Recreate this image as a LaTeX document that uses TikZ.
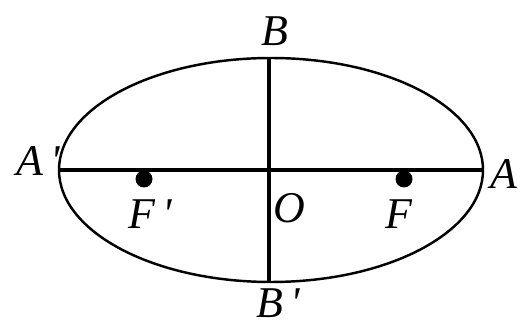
\documentclass[tikz,border=0pt]{standalone}
\usepackage{fontspec}
\setmainfont{Liberation Serif}
\usetikzlibrary{calc}

\newcommand{\lbl}[1]{\fontsize{25}{28}\selectfont\itshape #1}
\newcommand{\prm}{\,\textquotesingle}

\begin{document}
\begin{tikzpicture}[x=0.02cm, y=-0.02cm, every node/.style={inner sep=0pt}]
  \useasboundingbox (0,0) rectangle (521,320);
  % ellipse and its axes
  \coordinate (O) at (271,170);
  \draw[line width=1.4pt] (O) ellipse [x radius=212, y radius=112];
  \coordinate (Aleft) at (59,170);
  \coordinate (Aright) at (483,170);
  \coordinate (Btop) at (269,58);
  \coordinate (Bbot) at (269,282);
  \draw[line width=1.9pt] (Aleft) -- (Aright);
  \draw[line width=1.9pt] (Btop) -- (Bbot);
  % foci
  \fill (144,179) circle (8.5);
  \fill (404,179) circle (8.5);
  % labels
  \node (lA1) at (38,161) {\lbl{A\prm}};
  \node (lA) at (504,174) {\lbl{A}};
  \node (lB) at (275,31) {\lbl{B}};
  \node (lB1) at (278,303) {\lbl{B\prm}};
  \node (lO) at (289,208) {\lbl{O}};
  \node (lF1) at (150,214) {\lbl{F\prm}};
  \node (lF) at (399,214) {\lbl{F}};
\end{tikzpicture}
\end{document}
